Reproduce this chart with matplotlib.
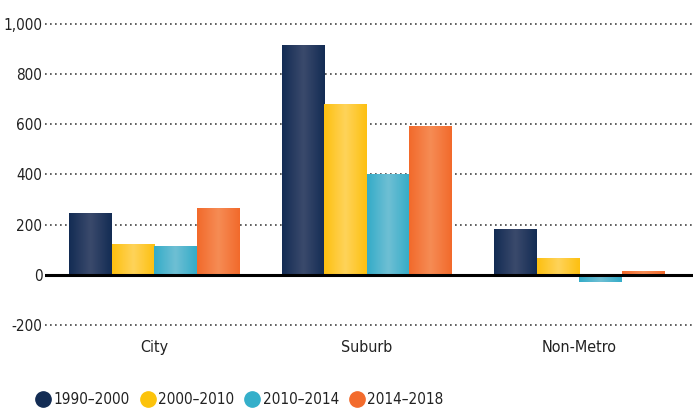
import numpy as np
import matplotlib
matplotlib.use("Agg")
import matplotlib.pyplot as plt
from matplotlib.colors import LinearSegmentedColormap
from matplotlib.lines import Line2D

plt.rcParams['font.family'] = ['DejaVu Sans']
plt.rcParams['font.stretch'] = 'condensed'

# data
categories = ['City', 'Suburb', 'Non-Metro']
series = ['1990\u20132000', '2000\u20132010', '2010\u20132014', '2014\u20132018']
values = {
    '1990\u20132000': [244, 916, 180],
    '2000\u20132010': [120, 680, 64],
    '2010\u20132014': [112, 400, -30],
    '2014\u20132018': [264, 592, 12],
}
yticks = [-200, 0, 200, 400, 600, 800, 1000]
ytick_labels = ['-200', '0', '200', '400', '600', '800', '1,000']

# (edge colour, centre colour, legend colour)
colors = [
    ('#132c54', '#3b4a6c', '#132c54'),
    ('#fdc010', '#ffd35a', '#fcc30b'),
    ('#34acc8', '#6fbfd4', '#34afca'),
    ('#f26a2b', '#f68c55', '#f36b2c'),
]

fig = plt.figure(figsize=(6.93, 4.11), dpi=100)
ax = fig.add_axes([0.065, 0.179, 0.935, 0.793])

x = np.arange(len(categories))
w = 0.2
for i, s in enumerate(series):
    edge, centre, _ = colors[i]
    cmap = LinearSegmentedColormap.from_list('g%d' % i, [edge, centre, edge])
    grad = np.linspace(0, 1, 64).reshape(1, -1)
    bars = ax.bar(x + (i - 1.5) * w, values[s], width=w, color=edge, zorder=2)
    for b in bars:
        x0, y0 = b.get_x(), b.get_y()
        x1, y1 = x0 + b.get_width(), y0 + b.get_height()
        ax.imshow(grad, cmap=cmap, extent=(x0, x1, min(y0, y1), max(y0, y1)),
                  aspect='auto', zorder=3, interpolation='bicubic')

for t in yticks:
    if t == 0:
        ax.axhline(0, color='black', lw=2.2, zorder=4)
    else:
        ax.axhline(t, color='#444444', lw=1.2, ls=(0, (1, 2)), zorder=1)

ax.set_xlim(-0.515, 2.535)
ax.set_ylim(-250, 1050)
ax.set_yticks(yticks)
ax.set_yticklabels(ytick_labels)
ax.set_xticks(x)
ax.set_xticklabels(categories)
ax.tick_params(axis='both', length=0, labelsize=11.5, colors='#222222')
ax.tick_params(axis='y', pad=2, labelsize=11)
ax.tick_params(axis='x', pad=2)
for sp in ax.spines.values():
    sp.set_visible(False)

handles = [Line2D([], [], ls='none', marker='o', markersize=11,
                  markerfacecolor=c[2], markeredgecolor=c[2]) for c in colors]
fig.legend(handles, series, loc='center left', bbox_to_anchor=(0.049, 0.027),
           ncol=4, frameon=False, fontsize=11, handletextpad=0.1,
           columnspacing=0.55, handlelength=1.2, labelcolor='#222222',
           borderaxespad=0, borderpad=0)

fig.savefig('out.png', dpi=100)
